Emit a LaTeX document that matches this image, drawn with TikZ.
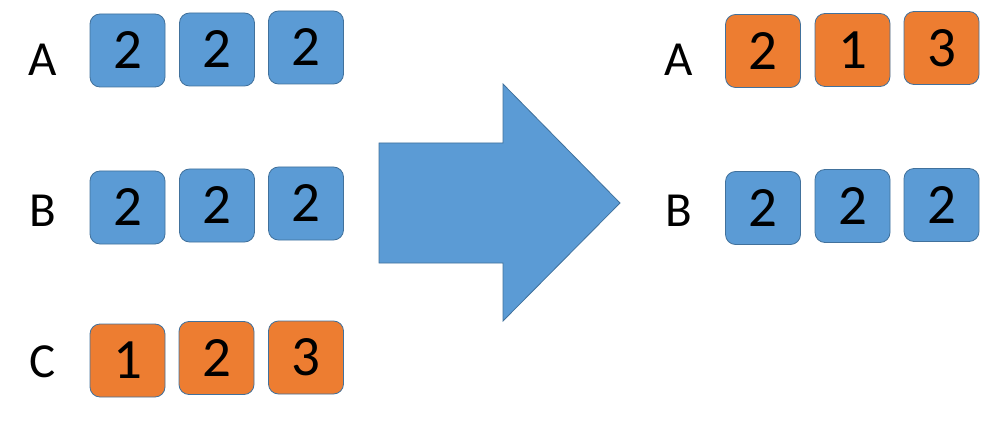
\documentclass[tikz,border=0pt]{standalone}
\usepackage{fontspec}
\setmainfont{Carlito}
\definecolor{boxblue}{HTML}{5B9BD5}
\definecolor{boxorange}{HTML}{ED7D31}
\definecolor{edgeblue}{HTML}{41719C}
\tikzset{
  cell/.style={draw=edgeblue, line width=0.8pt, rounded corners=10pt,
    minimum width=75pt, minimum height=73pt, inner sep=0pt,
    font=\fontsize{57}{57}\selectfont},
  bluecell/.style={cell, fill=boxblue},
  orangecell/.style={cell, fill=boxorange},
  rowlabel/.style={inner sep=0pt, font=\fontsize{49}{49}\selectfont},
  bigarrow/.style={fill=boxblue, draw=edgeblue, line width=0.8pt}
}
\begin{document}
\begin{tikzpicture}[x=1pt, y=-1pt]
\useasboundingbox (0,0) rectangle (988,425);
% left side
\node[rowlabel] (lA) at (43,60) {A};
\node[rowlabel] (lB) at (43,211) {B};
\node[rowlabel] (lC) at (43,362) {C};
\node[bluecell] (la1) at (127.5,50.5) {2};
\node[bluecell] (la2) at (217,49.5) {2};
\node[bluecell] (la3) at (306,47.5) {2};
\node[bluecell] (lb1) at (127.5,207.5) {2};
\node[bluecell] (lb2) at (217,205.5) {2};
\node[bluecell] (lb3) at (306,203.5) {2};
\node[orangecell] (lc1) at (127.5,360.5) {1};
\node[orangecell] (lc2) at (216.5,358) {2};
\node[orangecell] (lc3) at (306,357.5) {3};
% arrow
\draw[bigarrow] (379,143) -- (503,143) -- (503,84) -- (620,203) -- (503,321) -- (503,263) -- (379,263) -- cycle;
% right side
\node[rowlabel] (rA) at (679,60) {A};
\node[rowlabel] (rB) at (679,211) {B};
\node[orangecell] (ra1) at (763,51) {2};
\node[orangecell] (ra2) at (852.5,50) {1};
\node[orangecell] (ra3) at (941.5,48) {3};
\node[bluecell] (rb1) at (763,208) {2};
\node[bluecell] (rb2) at (852.5,206) {2};
\node[bluecell] (rb3) at (941.5,205) {2};
\end{tikzpicture}
\end{document}
